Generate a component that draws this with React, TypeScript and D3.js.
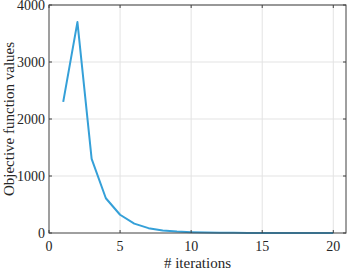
import React from 'react';
import * as d3 from 'd3';

const iterations = d3.range(1, 21);
const objectiveValues = [2300, 3700, 1300, 610, 320, 165, 85, 45, 25, 14, 8, 5, 3, 2, 1.5, 1, 0.8, 0.5, 0.4, 0.3];
const xTicks = [0, 5, 10, 15, 20];
const yTicks = [0, 1000, 2000, 3000, 4000];

const W = 349;
const H = 271;
const m = { left: 49, right: 2, top: 5, bottom: 38 };

const App: React.FC = () => {
  const x = d3.scaleLinear().domain([0, 21]).range([m.left, W - m.right + 0.5]);
  const y = d3.scaleLinear().domain([0, 4000]).range([H - m.bottom, m.top]);
  const x0 = m.left, x1 = W - m.right - 1, y0 = H - m.bottom, y1 = m.top;

  const line = d3.line<number>()
    .x((_, i) => x(iterations[i]))
    .y(d => y(d));

  const textStyle: React.CSSProperties = { fontFamily: 'Liberation Serif' };
  const axisColor = '#404040';
  const tickFs = 14;
  const labelFs = 15;

  return (
    <svg width={W} height={H} style={{ position: 'absolute', left: 0, top: 0 }}>
      <rect x={0} y={0} width={W} height={H} fill="#fff" />
      {/* grid */}
      {xTicks.slice(1).map(t => (
        <line key={'gx' + t} x1={x(t)} x2={x(t)} y1={y0} y2={y1} stroke="#e3e3e3" strokeWidth={1} />
      ))}
      {yTicks.slice(1).map(t => (
        <line key={'gy' + t} x1={x0} x2={x1} y1={y(t)} y2={y(t)} stroke="#e3e3e3" strokeWidth={1} />
      ))}
      {/* data line */}
      <path d={line(objectiveValues) || ''} fill="none" stroke="#35a0d8" strokeWidth={2} strokeLinejoin="round" />
      {/* box */}
      <rect x={x0} y={y1} width={x1 - x0} height={y0 - y1} fill="none" stroke={axisColor} strokeWidth={1} />
      {/* ticks */}
      {xTicks.map(t => (
        <g key={'tx' + t}>
          <line x1={x(t)} x2={x(t)} y1={y0} y2={y0 - 3} stroke={axisColor} />
          <line x1={x(t)} x2={x(t)} y1={y1} y2={y1 + 3} stroke={axisColor} />
          <text x={x(t)} y={251} textAnchor="middle" fontSize={tickFs} fill="#262626" style={textStyle}>{t}</text>
        </g>
      ))}
      {yTicks.map(t => (
        <g key={'ty' + t}>
          <line x1={x0} x2={x0 + 3} y1={y(t)} y2={y(t)} stroke={axisColor} />
          <line x1={x1} x2={x1 - 3} y1={y(t)} y2={y(t)} stroke={axisColor} />
          <text x={45} y={y(t) + 4.5} textAnchor="end" fontSize={tickFs} fill="#262626" style={textStyle}>{t}</text>
        </g>
      ))}
      <text x={(x0 + x1) / 2} y={268} textAnchor="middle" fontSize={labelFs} fill="#262626" style={textStyle}># iterations</text>
      <text transform={`translate(14,${(y0 + y1) / 2}) rotate(-90)`} textAnchor="middle" fontSize={labelFs} fill="#262626" style={textStyle}>
        Objective function values
      </text>
    </svg>
  );
};

export default App;
